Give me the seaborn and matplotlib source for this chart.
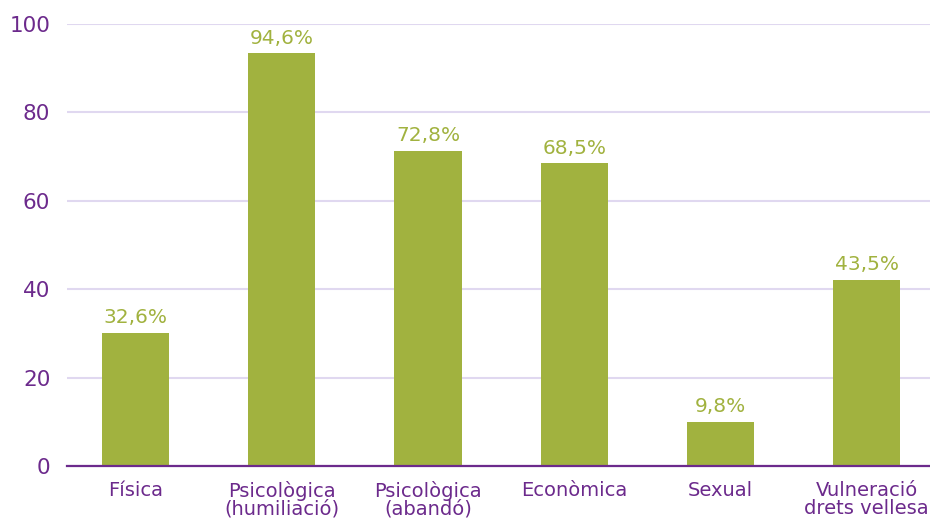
import matplotlib
matplotlib.use("Agg")
import matplotlib.pyplot as plt
import seaborn as sns
import pandas as pd

# Dades del gràfic
categories = ["Física", "Psicològica\n(humiliació)", "Psicològica\n(abandó)",
              "Econòmica", "Sexual", "Vulneració\ndrets vellesa"]
heights = [30.1, 93.4, 71.3, 68.5, 10.0, 42.1]
value_labels = ["32,6%", "94,6%", "72,8%", "68,5%", "9,8%", "43,5%"]
y_ticks = [0, 20, 40, 60, 80, 100]

green = "#a1b23f"
purple = "#6c2a8c"
grid = "#e0d8f0"

sns.set_theme(style="white")
plt.rcParams['font.family'] = ['DejaVu Sans']

df = pd.DataFrame({'cat': categories, 'val': heights})

fig = plt.figure(figsize=(9.3, 5.18), dpi=100)
ax = fig.add_axes([67 / 930, 52 / 518, 1 - 67 / 930, 442 / 518])

sns.barplot(data=df, x='cat', y='val', color=green, width=0.46, saturation=1,
            linewidth=0, ax=ax)

ax.set_ylim(0, 100)
ax.set_xlim(-0.469, 5.434)
ax.set_yticks(y_ticks)
ax.yaxis.grid(True, color=grid, linewidth=1.5)
ax.set_axisbelow(True)

for s in ['top', 'right', 'left']:
    ax.spines[s].set_visible(False)
ax.spines['bottom'].set_color(purple)
ax.spines['bottom'].set_linewidth(1.6)

ax.tick_params(axis='y', length=0, pad=12, labelsize=15.5, labelcolor=purple)
ax.tick_params(axis='x', length=0, pad=11, labelsize=14, labelcolor=purple)
for t in ax.get_xticklabels():
    t.set_linespacing(0.9)

ax.set_xlabel("")
ax.set_ylabel("")

ax.bar_label(ax.containers[0], labels=value_labels, padding=4, color=green, fontsize=14.5)

fig.savefig("out.png", dpi=100)
